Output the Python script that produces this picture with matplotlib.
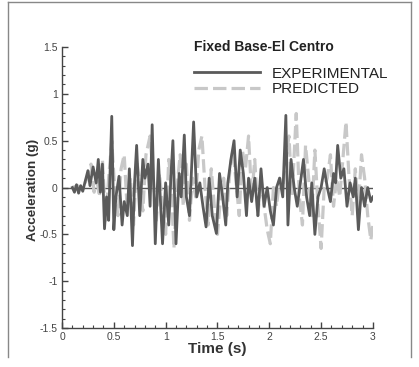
import matplotlib
matplotlib.use("Agg")
import matplotlib.pyplot as plt
from matplotlib.lines import Line2D
from matplotlib.ticker import MultipleLocator

plt.rcParams["font.family"] = ["Liberation Sans", "DejaVu Sans"]

# Experimental record (turning points)
t_exp = [0.10, 0.12, 0.14, 0.16, 0.18, 0.20, 0.22, 0.25, 0.27, 0.30,
         0.33, 0.35, 0.37, 0.39, 0.41, 0.43, 0.45, 0.48, 0.50, 0.52,
         0.55, 0.58, 0.60, 0.63, 0.65, 0.68, 0.70, 0.72, 0.75, 0.78,
         0.80, 0.83, 0.85, 0.87, 0.90, 0.93, 0.95, 0.97, 1.00, 1.03,
         1.05, 1.07, 1.10, 1.13, 1.15, 1.18, 1.20, 1.23, 1.25, 1.27,
         1.30, 1.33, 1.36, 1.39, 1.42, 1.45, 1.49, 1.52, 1.55, 1.58,
         1.60, 1.63, 1.66, 1.69, 1.72, 1.75, 1.78, 1.80, 1.83, 1.86,
         1.89, 1.92, 1.95, 1.98, 2.01, 2.04, 2.07, 2.10, 2.13, 2.16,
         2.18, 2.21, 2.24, 2.27, 2.30, 2.33, 2.36, 2.39, 2.41, 2.44,
         2.47, 2.50, 2.53, 2.56, 2.59, 2.62, 2.64, 2.66, 2.69, 2.72,
         2.75, 2.78, 2.81, 2.83, 2.86, 2.89, 2.92, 2.95, 2.98, 3.00]
a_exp = [0.00, -0.05, 0.03, -0.06, 0.02, -0.04, 0.05, 0.18, 0.02, 0.22,
         0.05, 0.30, -0.05, 0.25, -0.44, -0.10, -0.35, 0.76, -0.45, -0.10,
         0.12, -0.40, -0.15, -0.30, 0.20, -0.62, 0.05, 0.45, -0.30, 0.30,
         0.10, 0.25, -0.20, 0.67, -0.60, 0.30, -0.15, -0.60, 0.05, -0.40,
         0.10, 0.50, -0.60, 0.15, -0.10, 0.56, -0.10, -0.30, 0.20, 0.70,
         -0.10, 0.05, -0.20, -0.42, 0.10, -0.30, -0.49, 0.15, -0.10, -0.40,
         0.05, 0.30, 0.50, -0.10, 0.40, 0.15, -0.30, 0.10, -0.15, 0.10,
         -0.30, 0.20, -0.20, 0.00, -0.25, -0.40, 0.00, 0.10, -0.10, 0.77,
         -0.40, 0.30, 0.00, -0.20, 0.05, 0.30, -0.10, -0.30, 0.05, -0.50,
         -0.10, 0.00, 0.20, 0.00, -0.15, 0.15, 0.05, 0.45, 0.10, 0.20,
         -0.20, 0.05, -0.10, 0.10, -0.45, 0.00, -0.20, 0.00, -0.15, -0.10]

# Predicted response
t_pred = [0.10, 0.15, 0.20, 0.24, 0.28, 0.31, 0.33, 0.36, 0.39, 0.42,
          0.45, 0.48, 0.51, 0.54, 0.57, 0.60, 0.63, 0.66, 0.69, 0.72,
          0.75, 0.78, 0.81, 0.85, 0.88, 0.91, 0.94, 0.97, 1.00, 1.03,
          1.05, 1.08, 1.11, 1.14, 1.17, 1.20, 1.23, 1.26, 1.29, 1.32,
          1.35, 1.38, 1.41, 1.44, 1.47, 1.50, 1.53, 1.56, 1.59, 1.62,
          1.65, 1.68, 1.71, 1.74, 1.77, 1.80, 1.83, 1.86, 1.89, 1.92,
          1.95, 1.98, 2.01, 2.04, 2.07, 2.10, 2.13, 2.16, 2.19, 2.22,
          2.26, 2.29, 2.32, 2.35, 2.38, 2.41, 2.44, 2.47, 2.50, 2.53,
          2.56, 2.59, 2.62, 2.65, 2.68, 2.71, 2.74, 2.77, 2.80, 2.83,
          2.86, 2.89, 2.92, 2.95, 2.98, 3.00]
a_pred = [0.00, 0.02, -0.02, 0.10, 0.25, -0.05, 0.15, -0.10, 0.30, -0.35,
          0.10, 0.50, -0.05, -0.30, 0.20, 0.35, -0.25, 0.10, -0.40, 0.30,
          0.05, -0.25, 0.35, 0.55, 0.10, -0.35, 0.15, -0.20, -0.50, 0.30,
          0.10, -0.65, 0.00, 0.35, -0.20, 0.25, -0.35, 0.10, -0.10, 0.40,
          0.55, 0.00, -0.40, 0.20, -0.20, -0.50, -0.10, 0.10, -0.30, 0.20,
          0.40, 0.05, -0.30, 0.40, 0.20, 0.55, -0.10, 0.30, -0.30, 0.10,
          -0.20, -0.45, -0.60, 0.00, -0.20, 0.10, 0.00, 0.30, 0.55, -0.10,
          0.79, -0.10, -0.40, 0.45, 0.10, -0.30, 0.40, -0.20, -0.65, 0.00,
          0.10, 0.35, -0.20, 0.10, -0.10, 0.30, 0.70, 0.10, -0.30, 0.20,
          -0.20, 0.35, 0.10, -0.30, -0.56, -0.40]

fig = plt.figure(figsize=(4.19, 3.67), dpi=100)
ax = fig.add_axes([0.148, 0.106, 0.742, 0.766])

ax.axhline(0, color="#555555", lw=1.0, zorder=1)
ln_pred, = ax.plot(t_pred, a_pred, color="#c8c8c8", lw=2.3, zorder=2,
                   label="PREDICTED")
ln_pred.set_dashes((4.2, 1.6))
ln_exp, = ax.plot(t_exp, a_exp, color="#5a5a5a", lw=2.0, zorder=3,
                  label="EXPERIMENTAL")

ax.set_xlim(0, 3)
ax.set_ylim(-1.5, 1.5)
ax.xaxis.set_minor_locator(MultipleLocator(0.1))
ax.yaxis.set_minor_locator(MultipleLocator(0.1))
ax.set_xticks([0, 0.5, 1, 1.5, 2, 2.5, 3])
ax.set_xticklabels(["0", "0.5", "1", "1.5", "2", "2.5", "3"])
ax.set_yticks([-1.5, -1, -0.5, 0, 0.5, 1, 1.5])
ax.set_yticklabels(["-1.5", "-1", "-0.5", "0", "0.5", "1", "1.5"])

for s in ["top", "right"]:
    ax.spines[s].set_visible(False)
for s in ["left", "bottom"]:
    ax.spines[s].set_color("#444444")
    ax.spines[s].set_linewidth(1.0)

ax.tick_params(which="major", direction="in", length=4.5, width=1.0,
               color="#444444", labelsize=7.5, labelcolor="#444444", pad=3)
ax.tick_params(which="minor", direction="in", length=2.2, width=0.8,
               color="#444444")

ax.set_xlabel("Time (s)", fontsize=11, fontweight="bold", color="#333333")
ax.set_ylabel("Acceleration (g)", fontsize=9.7, fontweight="bold",
              color="#333333")
ax.xaxis.set_label_coords(0.5, -0.05)
ax.yaxis.set_label_coords(-0.074, 0.49)

ax.text(0.424, 1.0, "Fixed Base-El Centro", transform=ax.transAxes,
        fontsize=10, fontweight="bold", color="#222222",
        ha="left", va="center")
leg = ax.legend(handles=[ln_exp, ln_pred], loc="upper left",
                bbox_to_anchor=(0.424, 0.93), frameon=False, fontsize=11,
                handlelength=4.3, handletextpad=0.8, labelspacing=0.08,
                borderaxespad=0, borderpad=0)
for txt in leg.get_texts():
    txt.set_color("#222222")

# outer frame
for xs, ys in [([0.019, 0.019], [0.027, 0.995]),
               ([0.019, 0.981], [0.995, 0.995]),
               ([0.981, 0.981], [0.027, 0.995])]:
    fig.add_artist(Line2D(xs, ys, color="#888888", lw=1.0))

fig.savefig("out.png", dpi=100)
